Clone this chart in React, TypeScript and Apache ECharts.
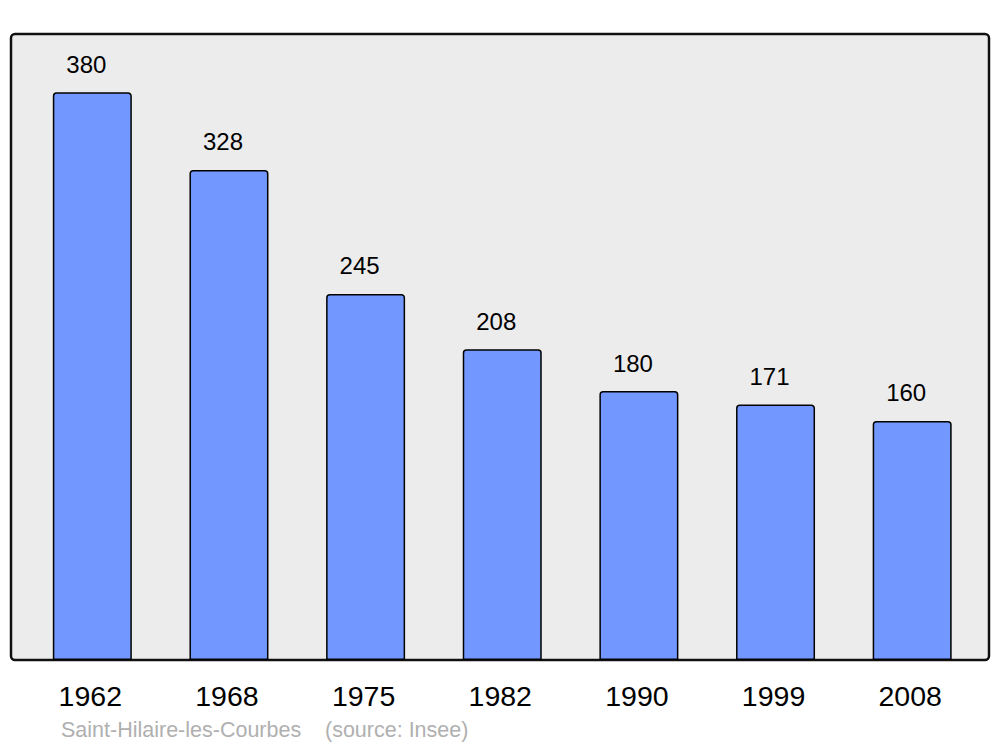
import React, { useEffect, useRef } from "react";
import * as echarts from "echarts";

const years = ["1962", "1968", "1975", "1982", "1990", "1999", "2008"];
const population = [380, 328, 245, 208, 180, 171, 160];
const footerPlace = "Saint-Hilaire-les-Courbes";
const footerSource = "(source: Insee)";

export default function App() {
  const ref = useRef<HTMLDivElement>(null);
  useEffect(() => {
    if (!ref.current) return;
    const chart = echarts.init(ref.current, undefined, { renderer: "svg" });
    chart.setOption({
      animation: false,
      textStyle: { fontFamily: "Liberation Sans, Arial, sans-serif" },
      graphic: [
        {
          type: "rect",
          z: -10,
          shape: { x: 11, y: 34, width: 978, height: 626, r: 4 },
          style: { fill: "#ececec", stroke: "#111", lineWidth: 2.5 },
        },
        {
          type: "text",
          x: 61,
          y: 730,
          style: {
            text: footerPlace,
            fill: "#b0b0b0",
            font: "21.5px 'Liberation Sans', Arial, sans-serif",
            verticalAlign: "middle",
          },
        },
        {
          type: "text",
          x: 325,
          y: 730,
          style: {
            text: footerSource,
            fill: "#b0b0b0",
            font: "21.5px 'Liberation Sans', Arial, sans-serif",
            verticalAlign: "middle",
          },
        },
      ],
      grid: { left: 24, right: 19.5, top: 34, bottom: 87 },
      xAxis: {
        type: "category",
        data: years,
        axisLine: { show: false },
        axisTick: { show: false },
        axisLabel: {
          fontSize: 28.5,
          color: "#000",
          margin: 21,
          padding: [0, 4, 0, 0],
          fontFamily: "Liberation Sans, Arial, sans-serif",
        },
      },
      yAxis: {
        type: "value",
        min: 0,
        max: 419,
        show: false,
        splitLine: { show: false },
      },
      series: [
        {
          type: "bar",
          data: population,
          barWidth: 79,
          itemStyle: {
            color: "#7298ff",
            borderColor: "#000",
            borderWidth: 1.5,
            borderRadius: [3, 3, 0, 0],
          },
          label: {
            show: true,
            position: "top",
            distance: 16,
            offset: [-6, 0],
            fontSize: 24,
            lineHeight: 24,
            color: "#000",
            fontFamily: "Liberation Sans, Arial, sans-serif",
          },
        },
      ],
    });
    return () => chart.dispose();
  }, []);
  return (
    <div
      ref={ref}
      style={{ position: "fixed", left: 0, top: 0, width: 1000, height: 747, background: "#fff" }}
    />
  );
}
